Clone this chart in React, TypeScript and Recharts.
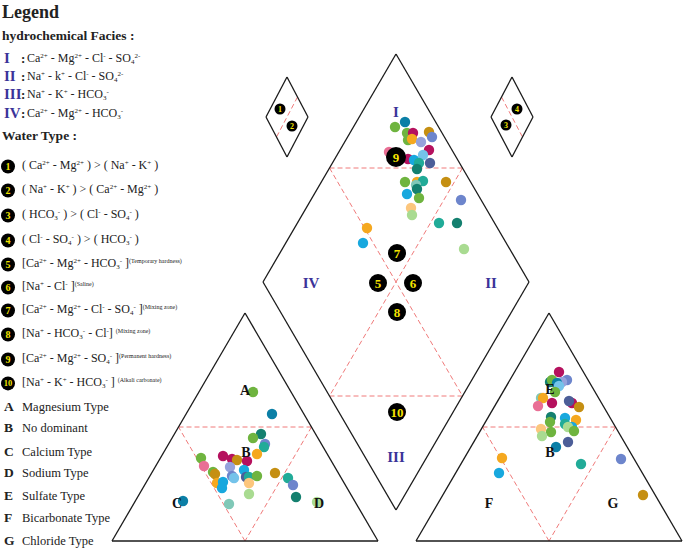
import React from "react";
import { ReferenceLine, Scatter, ScatterChart, XAxis, YAxis } from "recharts";

const W = 685;
const H = 549;

const SERIF = '"Liberation Serif", "DejaVu Serif", serif';
const OUTLINE = "#1a1a1a";
const DASH = "#f07a7a";
const ROMAN = "#3b3399";
const ZONE_FILL = "#000";
const ZONE_TEXT = "#f5e400";

// sample colours (same palette in every panel)
const C = {
  green: "#6fb43f",
  tealBlue: "#0b7fa6",
  magenta: "#b5115e",
  gold: "#c58f12",
  lilac: "#95a2dc",
  periwinkle: "#6d85cc",
  pink: "#e96f95",
  orange: "#f5a81f",
  sky: "#18a8de",
  lightBlue: "#74c3ea",
  darkTeal: "#14806f",
  teal: "#21ab98",
  slate: "#4c5e98",
  lightGreen: "#a9db91",
  peach: "#fcc67d",
  mint: "#80c8b7",
};

// frame geometry, diagram units
const SIDE = 266;
const TRI_H = 228;
const BASE_Y = 541;
const CATION_X0 = 112;
const ANION_X0 = 416;
const DIAMOND_CX = 396;
const DIAMOND_CY = 282;
const SMALL_W = 21;
const SMALL_H = 40;
const SMALL_CY = 117;
const SMALL_LEFT_CX = 287;
const SMALL_RIGHT_CX = 512;

// diamond samples [x, y, colour]
const diamondPts: [number, number, string][] = [
  [405, 122, C.tealBlue], [395, 127, C.green], [429, 132, C.gold], [407, 133, C.green],
  [413, 133, C.magenta], [432, 137, C.periwinkle], [408, 140, C.green], [412, 139, C.orange],
  [421, 142, C.lilac], [389, 152, C.pink], [429, 150, C.magenta], [423, 155, C.lightBlue],
  [408, 159, C.magenta], [414, 160, C.sky], [419, 163, C.teal], [430, 163, C.slate],
  [417, 169, C.darkTeal], [405, 182, C.green], [417, 182, C.orange], [423, 181, C.teal],
  [446, 182, C.gold], [416, 185, C.mint], [417, 189, C.darkTeal], [407, 194, C.sky],
  [419, 198, C.green], [461, 200, C.periwinkle], [411, 208, C.peach], [412, 215, C.lightGreen],
  [367, 228, C.orange], [439, 223, C.teal], [457, 223, C.darkTeal], [363, 243, C.sky],
  [464, 249, C.lightGreen],
];

// cation triangle samples
const cationPts: [number, number, string][] = [
  [253, 392, C.green], [272, 414, C.tealBlue], [261, 434, C.darkTeal], [253, 438, C.green],
  [265, 444, C.periwinkle], [264, 447, C.teal], [257, 454, C.orange], [201, 458, C.green],
  [223, 456, C.magenta], [232, 459, C.magenta], [237, 460, C.gold], [247, 461, C.magenta],
  [204, 466, C.pink], [230, 467, C.lilac], [213, 472, C.green], [215, 474, C.gold],
  [244, 470, C.sky], [275, 473, C.gold], [232, 476, C.periwinkle], [234, 478, C.lightBlue],
  [246, 477, C.slate], [249, 477, C.teal], [257, 476, C.green], [288, 478, C.teal],
  [217, 483, C.orange], [223, 482, C.sky], [249, 483, C.peach], [222, 488, C.sky],
  [293, 485, C.periwinkle], [249, 494, C.lightGreen], [296, 497, C.darkTeal], [183, 501, C.tealBlue],
  [229, 504, C.mint], [317, 502, C.lightGreen],
];

// anion triangle samples
const anionPts: [number, number, string][] = [
  [559, 372, C.magenta], [567, 380, C.periwinkle], [562, 382, C.lilac], [550, 382, C.darkTeal],
  [552, 380, C.green], [557, 383, C.tealBlue], [559, 386, C.lightBlue], [555, 392, C.green],
  [541, 398, C.mint], [543, 398, C.orange], [552, 403, C.magenta], [572, 403, C.magenta],
  [569, 401, C.slate], [538, 406, C.pink], [579, 407, C.gold], [551, 417, C.darkTeal],
  [565, 418, C.sky], [576, 420, C.orange], [550, 422, C.green], [565, 424, C.teal],
  [572, 427, C.sky], [568, 427, C.lightGreen], [574, 431, C.green], [541, 429, C.peach],
  [551, 432, C.green], [542, 436, C.lightGreen], [568, 442, C.slate], [556, 447, C.tealBlue],
  [502, 458, C.orange], [621, 459, C.periwinkle], [581, 464, C.teal], [499, 473, C.sky],
  [643, 495, C.gold],
];

// water-type zone markers
const zoneLabels = ["1", "2", "3", "4", "5", "6", "7", "8", "9", "10"];
const zoneX = [280, 292, 506, 517, 378, 413, 397, 397, 396, 397];
const zoneY = [109, 126, 125, 109, 283, 283, 253, 312, 157, 412];
const zoneR = [5.5, 5.5, 5.5, 5.5, 9, 9, 9, 9, 10, 9];

// field letters
const fieldText = ["I", "II", "III", "IV", "A", "B", "C", "D", "E", "B", "F", "G"];
const fieldX = [396, 491, 396, 311, 245, 246, 177, 319, 550, 550, 489, 613];
const fieldY = [112, 283, 457, 283, 390, 452, 503, 503, 389, 452, 503, 503];

const faciesNames = ["I", "II", "III", "IV"];
const faciesFormulas = [
  "Ca^{2+} - Mg^{2+} - Cl^{-} - SO_{4}^{2-}",
  "Na^{+} - k^{+} - Cl^{-} - SO_{4}^{2-}",
  "Na^{+} - K^{+} - HCO_{3}^{-}",
  "Ca^{2+} - Mg^{2+} - HCO_{3}^{-}",
];
const faciesRowY = [58, 76, 94, 113];

const waterTypes = [
  "( Ca^{2+} - Mg^{2+} ) > ( Na^{+} - K^{+} )",
  "( Na^{+} - K^{+} ) > ( Ca^{2+} - Mg^{2+} )",
  "( HCO_{3}^{-} ) > ( Cl^{-} - SO_{4}^{-} )",
  "( Cl^{-} - SO_{4}^{-} ) > ( HCO_{3}^{-} )",
  "[Ca^{2+} - Mg^{2+} - HCO_{3}^{-} ]^{(Temporary hardness)}",
  "[Na^{+} - Cl^{-} ]^{(Saline)}",
  "[Ca^{2+} - Mg^{2+} - Cl^{-} - SO_{4}^{-} ]^{(Mixing zone)}",
  "[Na^{+} - HCO_{3}^{-} - Cl^{-}] ^{(Mixing zone)}",
  "[Ca^{2+} - Mg^{2+} - SO_{4}^{-} ]^{(Permanent hardness)}",
  "[Na^{+} - K^{+} - HCO_{3}^{-} ] ^{(Alkali carbonate)}",
];
const waterRowY = [165, 189, 214, 239, 263, 286, 309, 333, 358, 382];

const typeLetters = ["A", "B", "C", "D", "E", "F", "G"];
const typeNames = [
  "Magnesium Type", "No dominant", "Calcium Type", "Sodium Type",
  "Sulfate Type", "Bicarbonate Type", "Chloride Type",
];
const typeRowY = [407, 428, 452, 473, 496, 518, 541];

type Pt = { x: number; y: number };
type Seg = [Pt, Pt];

const mid = (a: Pt, b: Pt): Pt => ({ x: (a.x + b.x) / 2, y: (a.y + b.y) / 2 });

function polygon(pts: Pt[]): Seg[] {
  return pts.map((p, i) => [p, pts[(i + 1) % pts.length]] as Seg);
}

function triangle(x0: number) {
  const a = { x: x0, y: BASE_Y };
  const b = { x: x0 + SIDE, y: BASE_Y };
  const c = { x: x0 + SIDE / 2, y: BASE_Y - TRI_H };
  return { outline: polygon([a, b, c]), inner: polygon([mid(a, c), mid(b, c), mid(a, b)]) };
}

function diamond(cx: number, cy: number, hw: number, hh: number) {
  const top = { x: cx, y: cy - hh };
  const right = { x: cx + hw, y: cy };
  const bottom = { x: cx, y: cy + hh };
  const left = { x: cx - hw, y: cy };
  return { top, right, bottom, left, outline: polygon([top, right, bottom, left]) };
}

const big = diamond(DIAMOND_CX, DIAMOND_CY, SIDE / 2, TRI_H);
const ul = mid(big.top, big.left);
const ur = mid(big.top, big.right);
const ll = mid(big.bottom, big.left);
const lr = mid(big.bottom, big.right);
const smallL = diamond(SMALL_LEFT_CX, SMALL_CY, SMALL_W, SMALL_H);
const smallR = diamond(SMALL_RIGHT_CX, SMALL_CY, SMALL_W, SMALL_H);
const cat = triangle(CATION_X0);
const an = triangle(ANION_X0);

const solidSegs: Seg[] = [...big.outline, ...smallL.outline, ...smallR.outline, ...cat.outline, ...an.outline];
const dashedSegs: Seg[] = [
  [ul, ur], [ll, lr], [ul, lr], [ur, ll],
  [mid(smallL.top, smallL.right), mid(smallL.bottom, smallL.left)],
  [mid(smallR.top, smallR.left), mid(smallR.bottom, smallR.right)],
  ...cat.inner,
  ...an.inner,
];

const toRows = (pts: [number, number, string][]) => pts.map(([x, y, c]) => ({ x, y, c }));
const zoneRows = zoneLabels.map((t, i) => ({ t, x: zoneX[i], y: zoneY[i], r: zoneR[i] }));
const fieldRows = fieldText.map((t, i) => ({ t, x: fieldX[i], y: fieldY[i], roman: i < 4 }));

function Dot(p: any) {
  return <circle cx={p.cx} cy={p.cy} r={5.2} fill={p.payload.c} />;
}

function ZoneMark(p: any) {
  const { r, t } = p.payload;
  return (
    <g>
      <circle cx={p.cx} cy={p.cy} r={r} fill={ZONE_FILL} />
      <text x={p.cx} y={p.cy} dy="0.36em" textAnchor="middle" fill={ZONE_TEXT}
        fontFamily={SERIF} fontWeight="bold" fontSize={r > 6 ? 13 : 8}>{t}</text>
    </g>
  );
}

function FieldText(p: any) {
  const { t, roman } = p.payload;
  return (
    <text x={p.cx} y={p.cy} dy="0.36em" textAnchor="middle" fontFamily={SERIF}
      fill={roman ? ROMAN : "#111"} fontWeight="bold" fontSize={roman ? 15 : 14}>
      {t}
    </text>
  );
}

// "Ca^{2+}" -> superscripts, "SO_{4}" -> subscripts
function chem(s: string, supSize = 7) {
  return s.split(/(\^\{[^}]*\}|_\{[^}]*\})/).map((part, i) => {
    if (part.startsWith("^{")) {
      const txt = part.slice(2, -1);
      const small = txt.length > 3 ? 6 : supSize;
      return <sup key={i} style={{ fontSize: small, verticalAlign: "0.6em", lineHeight: 0 }}>{txt}</sup>;
    }
    if (part.startsWith("_{")) {
      return <sub key={i} style={{ fontSize: supSize, verticalAlign: "-0.35em", lineHeight: 0 }}>{part.slice(2, -1)}</sub>;
    }
    return <span key={i}>{part}</span>;
  });
}

const row = (top: number, left: number): React.CSSProperties => ({
  position: "absolute", top, left, transform: "translateY(-50%)", whiteSpace: "nowrap", lineHeight: 1,
});

function Badge({ n }: { n: string }) {
  return (
    <span style={{
      display: "inline-flex", alignItems: "center", justifyContent: "center",
      width: 14, height: 14, borderRadius: 7, background: ZONE_FILL, color: ZONE_TEXT,
      fontWeight: "bold", fontSize: n.length > 1 ? 8.5 : 10, fontFamily: SERIF,
    }}>{n}</span>
  );
}

function LegendPanel() {
  return (
    <div style={{ position: "absolute", left: 0, top: 0, fontFamily: SERIF, color: "#222", pointerEvents: "none" }}>
      <div style={{ ...row(12, 2), fontSize: 18, fontWeight: "bold" }}>Legend</div>
      <div style={{ ...row(36, 2), fontSize: 13.5, fontWeight: "bold" }}>hydrochemical Facies :</div>
      {faciesNames.map((n, i) => (
        <React.Fragment key={n}>
          <div style={{ ...row(faciesRowY[i], 4), fontSize: 15, fontWeight: "bold", color: ROMAN }}>{n}</div>
          <div style={{ ...row(faciesRowY[i], 21), fontSize: 13, fontWeight: "bold" }}>:</div>
          <div style={{ ...row(faciesRowY[i], 27), fontSize: 12 }}>{chem(faciesFormulas[i])}</div>
        </React.Fragment>
      ))}
      <div style={{ ...row(136, 2), fontSize: 13.5, fontWeight: "bold" }}>Water Type :</div>
      {waterTypes.map((w, i) => (
        <React.Fragment key={i}>
          <div style={{ ...row(waterRowY[i], 1) }}><Badge n={String(i + 1)} /></div>
          <div style={{ ...row(waterRowY[i], 22), fontSize: 12 }}>{chem(w)}</div>
        </React.Fragment>
      ))}
      {typeLetters.map((l, i) => (
        <React.Fragment key={l}>
          <div style={{ ...row(typeRowY[i], 4), fontSize: 13.5, fontWeight: "bold" }}>{l}</div>
          <div style={{ ...row(typeRowY[i], 22), fontSize: 12.5 }}>{typeNames[i]}</div>
        </React.Fragment>
      ))}
    </div>
  );
}

export default function App() {
  return (
    <div style={{ position: "absolute", left: 0, top: 0, width: W, height: H, background: "#fff" }}>
      <ScatterChart width={W} height={H} margin={{ top: 0, right: 0, bottom: 0, left: 0 }}>
        <XAxis type="number" dataKey="x" domain={[0, W]} hide />
        <YAxis type="number" dataKey="y" domain={[0, H]} reversed hide />
        {dashedSegs.map((s, i) => (
          <ReferenceLine key={`d${i}`} segment={s} stroke={DASH} strokeWidth={1} strokeDasharray="5 3" ifOverflow="visible" />
        ))}
        {solidSegs.map((s, i) => (
          <ReferenceLine key={`s${i}`} segment={s} stroke={OUTLINE} strokeWidth={1.3} ifOverflow="visible" />
        ))}
        <Scatter data={toRows(diamondPts)} shape={Dot} isAnimationActive={false} />
        <Scatter data={toRows(cationPts)} shape={Dot} isAnimationActive={false} />
        <Scatter data={toRows(anionPts)} shape={Dot} isAnimationActive={false} />
        <Scatter data={zoneRows} shape={ZoneMark} isAnimationActive={false} />
        <Scatter data={fieldRows} shape={FieldText} isAnimationActive={false} />
      </ScatterChart>
      <LegendPanel />
    </div>
  );
}
